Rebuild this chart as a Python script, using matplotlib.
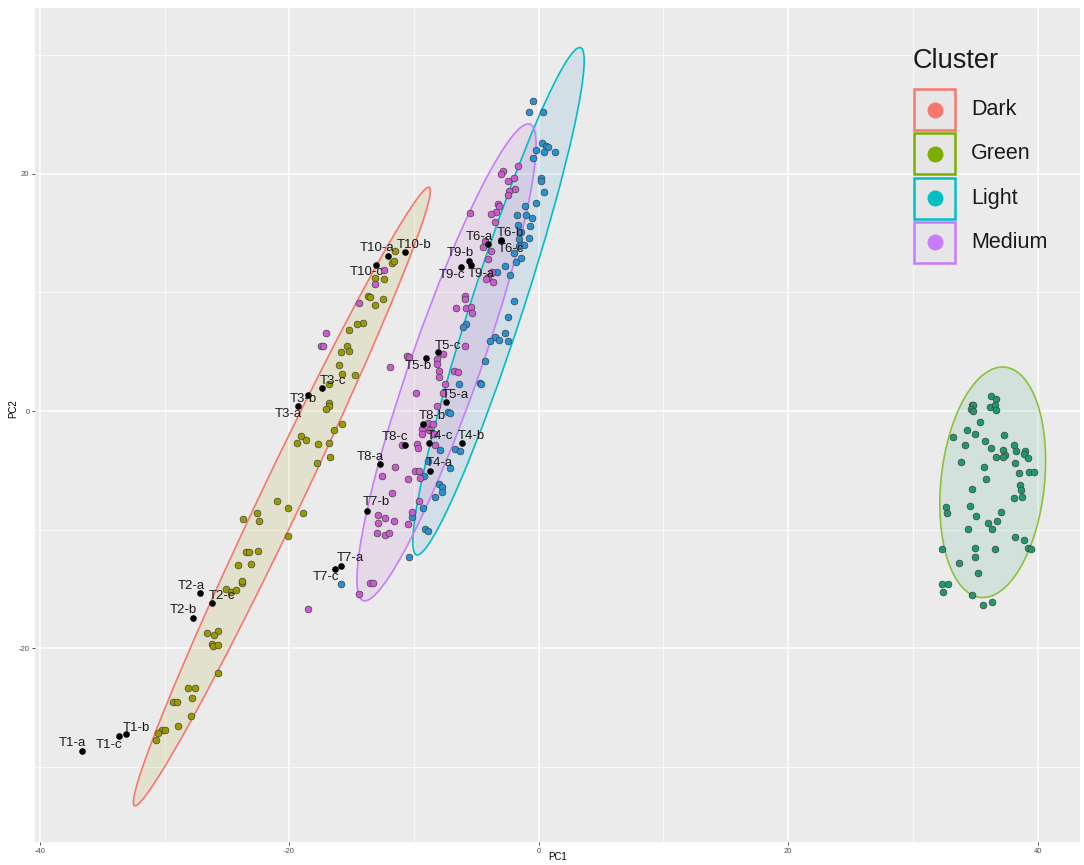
import matplotlib.pyplot as plt
from matplotlib.patches import Ellipse, Rectangle

plt.rcParams['font.family'] = ['Liberation Sans', 'DejaVu Sans']
plt.rcParams['axes.unicode_minus'] = False

# PCA scores (PC1, PC2) per cluster
dark_scores = [
    (-23.5, -11.9), (-23.25, -11.9), (-22.55, -11.8), (-24.1, -13.0), (-23.1, -12.9),
    (-25.1, -15.0), (-24.7, -15.2), (-24.3, -15.1), (-23.8, -14.5), (-23.8, -14.3),
    (-26.6, -18.7), (-25.7, -18.5), (-26.05, -18.9), (-26.2, -19.6), (-26.1, -19.8),
    (-25.7, -19.7), (-25.7, -22.1), (-28.1, -23.3), (-27.6, -23.3), (-27.8, -24.2),
    (-29.35, -24.5), (-29.05, -24.5), (-27.9, -25.7), (-28.9, -26.5), (-30.2, -26.85),
    (-30.0, -26.9), (-30.5, -27.15), (-30.7, -27.7),
    (-16.8, 0.7), (-16.8, 0.45), (-17.1, 0.2), (-15.8, -1.1), (-16.4, -1.6),
    (-19.1, -2.1), (-18.7, -2.4), (-19.4, -2.7), (-17.7, -2.75), (-16.8, -2.7),
    (-16.75, -3.9), (-17.8, -4.4), (-21.0, -7.6), (-20.1, -8.2), (-18.9, -8.6),
    (-22.6, -8.6), (-23.7, -9.1), (-22.4, -9.3), (-20.1, -10.5),
    (-11.5, 13.45), (-11.8, 12.5), (-11.6, 12.6), (-13.1, 11.2), (-12.4, 11.1),
    (-13.7, 9.7), (-13.5, 9.6), (-12.5, 9.4), (-13.1, 8.9), (-14.1, 7.4),
    (-14.55, 7.3), (-15.2, 6.8), (-15.35, 5.5), (-15.2, 5.1), (-15.9, 5.0),
    (-16.0, 3.9), (-15.8, 3.1), (-14.7, 3.0), (-16.8, 2.25),
]
medium_scores = [
    (-12.4, 11.9), (-13.1, 10.7), (-14.45, 9.1), (-17.1, 6.6), (-17.5, 5.5),
    (-17.3, 5.5), (-11.9, 3.7), (-10.6, 4.6), (-10.4, 4.55), (-9.85, 1.5),
    (-5.9, 5.45), (-7.7, 4.8), (-8.2, 4.4), (-8.2, 3.96), (-8.0, 3.4),
    (-8.0, 2.9), (-6.8, 3.4), (-6.5, 3.3), (-7.55, 2.25), (-7.7, 1.55),
    (-8.2, 0.4), (-8.85, -1.0), (-9.4, -1.5), (-8.8, -1.6), (-9.4, -1.9),
    (-8.4, -1.95), (-8.5, -1.1), (-9.8, -2.8), (-9.7, -3.1), (-11.0, -2.9),
    (-8.3, -2.9), (-11.55, -4.75), (-12.6, -5.5), (-10.5, -5.75), (-9.9, -5.05),
    (-9.6, -5.05), (-9.5, -5.6),
    (-1.7, 20.6), (-2.9, 20.2), (-3.0, 20.0), (-2.0, 19.6), (-2.5, 19.4),
    (-1.9, 18.7), (-2.4, 18.5), (-2.5, 18.2), (-3.3, 17.4), (-3.2, 17.3),
    (-5.5, 16.65), (-3.45, 16.8), (-3.8, 16.6), (-3.5, 15.9), (-4.3, 14.3),
    (-4.5, 13.8), (-3.85, 13.5), (-4.1, 12.8), (-4.1, 11.3), (-3.75, 11.7),
    (-4.25, 11.15), (-3.7, 10.9), (-5.9, 9.7), (-5.9, 9.4), (-5.85, 8.7),
    (-6.6, 8.65), (-5.4, 8.8), (-5.35, 8.3),
    (-11.75, -6.9), (-9.6, -7.6), (-10.2, -8.5), (-12.9, -8.75), (-12.9, -9.4),
    (-12.3, -9.0), (-11.6, -9.3), (-10.5, -9.5), (-13.0, -10.3), (-12.3, -10.4),
    (-12.0, -10.3), (-13.5, -14.5), (-13.3, -14.5), (-14.45, -15.4), (-18.5, -16.7),
]
light_scores = [
    (-0.5, 26.1), (-0.8, 25.2), (0.3, 25.2), (0.25, 22.6), (-0.2, 22.0),
    (0.6, 22.3), (0.7, 22.2), (0.45, 21.8), (1.3, 21.8), (-0.45, 21.3),
    (0.15, 19.6), (0.15, 19.35), (0.4, 18.45), (-0.2, 17.55), (-1.1, 17.3),
    (-1.75, 16.5), (-1.05, 16.55), (-0.55, 16.3), (-0.7, 15.6), (-0.8, 14.6),
    (-1.6, 14.5), (-1.6, 13.9), (-1.4, 14.0), (-1.2, 14.0), (-1.4, 12.9),
    (-1.8, 12.55), (-2.7, 12.2), (-2.3, 11.5), (-3.35, 11.7),
    (-1.7, 15.7), (-1.45, 15.1), (-2.0, 13.3), (-2.0, 9.3), (-2.5, 7.9),
    (-5.8, 7.3), (-6.1, 7.05), (-2.7, 6.6), (-3.5, 6.2), (-3.2, 6.0),
    (-2.5, 5.9), (-3.9, 5.9), (-4.35, 4.2),
    (-4.7, 2.4), (-4.6, 2.3), (-6.4, 2.3), (-7.3, -0.05), (-7.1, -0.2),
    (-6.75, -3.2), (-6.3, -3.4), (-7.95, -3.3), (-8.9, -4.2), (-7.1, -4.8),
    (-9.2, -5.5), (-8.0, -6.15), (-7.8, -6.4), (-8.3, -7.2),
    (-7.8, -6.8), (-9.3, -8.2), (-10.2, -8.9), (-9.1, -9.9), (-8.85, -10.1),
    (-10.4, -12.3), (-15.9, -14.6),
]
green_scores = [
    (36.3, 1.3), (36.7, 1.0), (34.7, 0.55), (34.85, 0.5), (34.65, 0.2),
    (34.8, 0.0), (36.2, 0.35), (36.6, 0.55), (36.65, 0.1), (35.4, -0.9),
    (33.2, -2.2), (34.3, -1.6), (34.95, -1.9), (37.3, -2.0), (35.75, -2.55),
    (34.2, -2.9), (36.3, -3.15), (38.1, -2.9), (38.3, -3.4), (37.2, -3.3),
    (39.0, -3.35), (38.9, -3.65), (39.2, -3.95), (37.35, -3.7), (37.2, -3.9),
    (36.65, -3.85), (33.85, -4.3), (38.15, -4.35), (35.7, -4.7), (38.5, -5.2),
    (39.35, -5.1), (39.7, -5.1), (35.85, -5.7), (34.75, -6.6), (38.6, -6.2),
    (38.7, -6.65), (38.75, -7.2), (38.1, -7.35), (34.6, -8.0), (32.65, -8.1),
    (32.7, -8.55), (35.05, -8.8), (37.1, -8.5), (36.75, -9.3), (36.0, -9.4),
    (34.4, -9.9), (36.35, -9.9), (38.15, -10.65), (38.9, -10.9), (39.2, -11.5),
    (39.45, -11.6), (32.35, -11.6), (35.0, -11.5), (36.6, -11.65), (34.95, -12.3),
    (33.7, -12.8), (35.2, -13.6), (32.3, -14.6), (32.85, -14.6), (32.45, -15.25),
    (34.7, -15.5), (35.6, -16.3), (36.35, -16.1),
]

# Reference samples (black) and where their names sit
ref_names = ["T1-a", "T1-b", "T1-c", "T2-a", "T2-b", "T2-c", "T3-a", "T3-b", "T3-c",
             "T4-a", "T4-b", "T4-c", "T5-a", "T5-b", "T5-c", "T6-a", "T6-b", "T6-c",
             "T7-a", "T7-b", "T7-c", "T8-a", "T8-b", "T8-c", "T9-a", "T9-b", "T9-c",
             "T10-a", "T10-b", "T10-c"]
ref_scores = [(-36.6, -28.6), (-33.1, -27.2), (-33.7, -27.4), (-27.2, -15.3), (-27.7, -17.4),
              (-26.2, -16.2), (-19.3, 0.4), (-18.5, 1.35), (-17.4, 1.9), (-8.72, -5.03),
              (-6.18, -2.72), (-8.77, -2.67), (-7.46, 0.76), (-9.05, 4.5), (-8.1, 4.95),
              (-4.07, 14.1), (-3.07, 14.4), (-3.05, 14.35), (-15.87, -13.03), (-13.75, -8.4),
              (-16.37, -13.3), (-12.74, -4.47), (-9.3, -1.07), (-10.75, -2.9), (-5.4, 12.3),
              (-5.6, 12.66), (-6.24, 12.1), (-12.1, 13.1), (-10.75, 13.4), (-13.06, 12.3)]
ref_text_pos = [(-37.4, -28.0), (-32.3, -26.7), (-34.5, -28.1), (-27.9, -14.7), (-28.5, -16.8),
                (-25.4, -15.6), (-20.1, -0.25), (-18.9, 1.0), (-16.5, 2.5), (-8.0, -4.4),
                (-5.4, -2.1), (-7.9, -2.1), (-6.7, 1.35), (-9.7, 3.8), (-7.3, 5.5),
                (-4.8, 14.7), (-2.25, 15.0), (-2.25, 13.65), (-15.1, -12.4), (-13.0, -7.7),
                (-17.1, -14.0), (-13.5, -3.9), (-8.5, -0.4), (-11.5, -2.2), (-4.6, 11.55),
                (-6.3, 13.3), (-7.0, 11.5), (-13.0, 13.7), (-10.0, 14.0), (-13.8, 11.7)]

# 95% confidence ellipses: centre, full axis lengths, rotation (deg)
clusters = ["Dark", "Green", "Light", "Medium"]
ellipse_center = [(-20.6, -7.2), (36.4, -6.0), (-3.23, 9.25), (-7.4, 4.1)]
ellipse_major = [57.2, 19.5, 44.7, 42.3]
ellipse_minor = [3.3, 8.3, 4.2, 5.6]
ellipse_angle = [65.6, 84.3, 72.9, 71.6]

edge_colors = ["#F8766D", "#7CAE00", "#00BFC4", "#C77CFF"]
ring_colors = ["#F8766D", "#8CC23A", "#00BFC4", "#C77CFF"]
point_colors = ["#9A9A00", "#1E9A6A", "#2A90D2", "#C95BCE"]
cluster_scores = [dark_scores, green_scores, light_scores, medium_scores]

fig = plt.figure(figsize=(10.84, 8.65), dpi=100)
ax = fig.add_axes([35 / 1084, 23 / 865, 1045 / 1084, 834 / 865])
ax.set_facecolor("#EBEBEB")

for i in range(len(clusters)):
    ax.add_patch(Ellipse(ellipse_center[i], ellipse_major[i], ellipse_minor[i],
                         angle=ellipse_angle[i], facecolor=point_colors[i],
                         alpha=0.12, edgecolor="none", zorder=1))
    ax.add_patch(Ellipse(ellipse_center[i], ellipse_major[i], ellipse_minor[i],
                         angle=ellipse_angle[i], facecolor="none",
                         edgecolor=ring_colors[i], lw=1.2, zorder=2))

for scores, col in zip(cluster_scores, point_colors):
    xs, ys = zip(*scores)
    ax.scatter(xs, ys, s=24, color=col, edgecolors="#3a3a3a", linewidths=0.45, zorder=3)

rx, ry = zip(*ref_scores)
ax.scatter(rx, ry, s=14, color="black", zorder=4)
for name, (tx, ty) in zip(ref_names, ref_text_pos):
    ax.text(tx, ty, name, fontsize=9.5, color="#1a1a1a", ha="center", va="center", zorder=5)

ax.set_xlim(-40.4, 43.4)
ax.set_ylim(-36.3, 33.95)
ax.set_xticks([-40, -20, 0, 20, 40])
ax.set_yticks([-20, 0, 20])
ax.set_xticks([-30, -10, 10, 30], minor=True)
ax.set_yticks([-30, -10, 10, 30], minor=True)
ax.grid(which="major", color="white", lw=1.1)
ax.grid(which="minor", color="white", lw=0.55)
ax.set_axisbelow(True)
for sp in ax.spines.values():
    sp.set_visible(False)
ax.tick_params(which="major", length=2.5, width=0.6, color="#333333",
               labelsize=5.5, labelcolor="#4D4D4D", pad=1.5)
ax.tick_params(which="minor", length=0)
ax.set_xlabel("PC1", fontsize=7)
ax.set_ylabel("PC2", fontsize=7)
ax.xaxis.set_label_coords(0.5, -0.0125)
ax.yaxis.set_label_coords(-0.0165, 0.52)

# legend keys drawn in axes coordinates
ax.text(0.840, 0.9364, "Cluster", transform=ax.transAxes, fontsize=19.5,
        ha="left", va="center", color="#1a1a1a")
key_w, key_h, step = 41 / 1045, 41 / 834, 0.0529
for i, name in enumerate(clusters):
    y0 = 0.8534 - i * step
    ax.add_patch(Rectangle((0.8412, y0), key_w, key_h, transform=ax.transAxes,
                           facecolor="#E6E6E6", edgecolor=edge_colors[i], lw=1.8,
                           zorder=6, clip_on=False))
    ax.scatter([0.8412 + key_w / 2], [y0 + key_h / 2], s=110, color=edge_colors[i],
               transform=ax.transAxes, zorder=7, clip_on=False)
    ax.text(0.8957, y0 + key_h / 2, name, transform=ax.transAxes, fontsize=15.5,
            ha="left", va="center", color="#1a1a1a", zorder=7)

fig.savefig("out.png", dpi=100)
